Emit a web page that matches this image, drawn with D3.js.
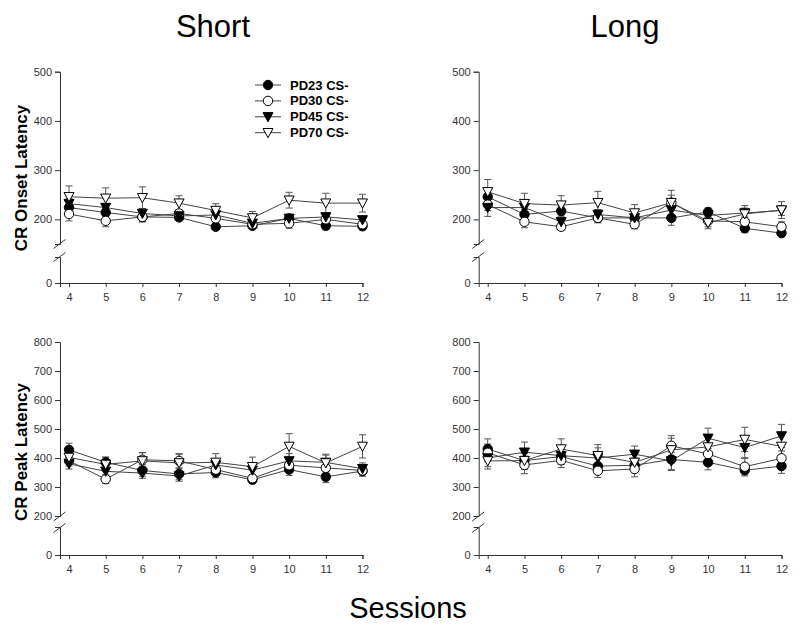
<!DOCTYPE html>
<html>
<head>
<meta charset="utf-8">
<script src="https://cdn.jsdelivr.net/npm/d3@7"></script>
<style>
  html, body { margin: 0; padding: 0; background: #fff; }
  svg { display: block; }
</style>
</head>
<body>
<script>
// ---------------- DATA ----------------
const sessions = [4, 5, 6, 7, 8, 9, 10, 11, 12];
const seriesNames = ["PD23 CS-", "PD30 CS-", "PD45 CS-", "PD70 CS-"];
const columnTitles = ["Short", "Long"];
const rowLabels = ["CR Onset Latency", "CR Peak Latency"];
const xTitle = "Sessions";
const onsetTicks = [0, 200, 300, 400, 500];
const peakTicks = [0, 200, 300, 400, 500, 600, 700, 800];

// rows: PD23, PD30, PD45, PD70
const onsetShortMean = [
  [224, 214, 205, 204, 185, 187, 202, 187, 186],
  [211, 197, 205, 212, 202, 190, 192, 200, 190],
  [232, 224, 212, 207, 209, 192, 202, 205, 199],
  [246, 243, 244, 233, 218, 203, 239, 233, 233]
];
const onsetShortSE = [
  [10, 8, 10, 6, 5, 5, 8, 8, 7],
  [14, 12, 10, 8, 9, 7, 10, 8, 8],
  [10, 8, 10, 7, 8, 6, 8, 8, 7],
  [22, 21, 22, 15, 14, 13, 16, 20, 18]
];
const onsetLongMean = [
  [246, 210, 217, 203, 203, 203, 215, 182, 172],
  [230, 195, 185, 203, 190, 234, 197, 195, 185],
  [224, 224, 195, 210, 203, 219, 208, 213, 218],
  [256, 232, 229, 234, 213, 234, 193, 211, 219]
];
const onsetLongSE = [
  [14, 10, 10, 10, 8, 15, 8, 9, 6],
  [12, 12, 7, 8, 9, 15, 12, 10, 10],
  [18, 12, 10, 10, 8, 12, 10, 10, 10],
  [25, 21, 19, 23, 17, 25, 12, 17, 17]
];
const peakShortMean = [
  [428, 385, 357, 345, 350, 325, 360, 335, 355],
  [390, 327, 394, 390, 360, 330, 375, 366, 357],
  [380, 354, 348, 338, 376, 358, 390, 385, 363],
  [402, 378, 390, 383, 385, 370, 440, 383, 440]
];
const peakShortSE = [
  [23, 18, 20, 20, 18, 12, 20, 20, 18],
  [18, 15, 25, 25, 20, 12, 20, 18, 15],
  [18, 18, 18, 18, 18, 15, 25, 25, 20],
  [22, 25, 28, 30, 30, 33, 44, 30, 40]
];
const peakLongMean = [
  [431, 391, 405, 372, 375, 395, 385, 358, 372],
  [418, 376, 392, 356, 362, 442, 414, 370, 399],
  [400, 420, 408, 400, 413, 390, 468, 436, 476],
  [390, 391, 431, 408, 385, 428, 438, 464, 440]
];
const peakLongSE = [
  [35, 25, 25, 25, 25, 38, 26, 20, 25],
  [30, 30, 25, 23, 27, 35, 30, 28, 25],
  [30, 35, 30, 35, 28, 30, 35, 35, 40],
  [28, 30, 35, 38, 30, 40, 40, 42, 38]
];

// ---------------- LAYOUT ----------------
const W = 800, H = 626;
const FONT = "Arial, 'Liberation Sans', sans-serif";
const AX = "#333";

const svg = d3.select("body").append("svg").attr("width", W).attr("height", H);

const panels = [
  { mean: onsetShortMean, se: onsetShortSE, ax: 60, xEnd: 362.5, base: 283,
    upperDom: [150, 500], upperRange: [244, 71.7], lowerDom: [0, 53], lowerRange: [283, 257],
    ticks: onsetTicks.filter(d => d > 0), legend: true, breaks: [244, 257] },
  { mean: onsetLongMean, se: onsetLongSE, ax: 478.7, xEnd: 781.5, base: 283,
    upperDom: [150, 500], upperRange: [244, 71.7], lowerDom: [0, 53], lowerRange: [283, 257],
    ticks: onsetTicks.filter(d => d > 0), legend: false, breaks: [244, 257] },
  { mean: peakShortMean, se: peakShortSE, ax: 60, xEnd: 362.5, base: 555,
    upperDom: [200, 800], upperRange: [516, 342], lowerDom: [0, 97], lowerRange: [555, 527],
    ticks: peakTicks.filter(d => d > 0), legend: false, breaks: [516.5, 528] },
  { mean: peakLongMean, se: peakLongSE, ax: 478.7, xEnd: 781.5, base: 555,
    upperDom: [200, 800], upperRange: [516, 342], lowerDom: [0, 97], lowerRange: [555, 527],
    ticks: peakTicks.filter(d => d > 0), legend: false, breaks: [516.5, 528] }
];

const symbolFill = ["#000", "#fff", "#000", "#fff"];
const symbolKind = ["circle", "circle", "tri", "tri"];

function drawMarker(g, kind, fill, x, y) {
  if (kind === "circle") {
    g.append("circle").attr("cx", x).attr("cy", y).attr("r", 4.7)
      .attr("fill", fill).attr("stroke", "#000").attr("stroke-width", 1);
  } else {
    const s = 5;
    g.append("path")
      .attr("d", `M${x - s},${y - 4.2}L${x + s},${y - 4.2}L${x},${y + 5}Z`)
      .attr("fill", fill).attr("stroke", "#000").attr("stroke-width", 1);
  }
}

function styleAxis(g) {
  g.selectAll("path.domain").attr("stroke", AX).attr("stroke-width", 1);
  g.selectAll(".tick line").attr("stroke", AX);
  g.selectAll(".tick text").attr("fill", "#333").attr("font-size", 11).attr("font-family", FONT);
}

panels.forEach(p => {
  const g = svg.append("g");
  const x = d3.scaleLinear().domain([3.754, 12]).range([p.ax, p.xEnd]);
  const yU = d3.scaleLinear().domain(p.upperDom).range(p.upperRange);
  const yL = d3.scaleLinear().domain(p.lowerDom).range(p.lowerRange);

  const gx = g.append("g").attr("transform", `translate(0,${p.base})`)
    .call(d3.axisBottom(x).tickValues(sessions).tickSizeOuter(0).tickSize(4).tickPadding(6).tickFormat(d3.format("d")));
  styleAxis(gx);

  const gyU = g.append("g").attr("transform", `translate(${p.ax},0)`)
    .call(d3.axisLeft(yU).tickValues(p.ticks).tickSizeOuter(0).tickSize(5).tickPadding(3));
  styleAxis(gyU);
  const gyL = g.append("g").attr("transform", `translate(${p.ax},0)`)
    .call(d3.axisLeft(yL).tickValues([0]).tickSizeOuter(0).tickSize(5).tickPadding(3));
  styleAxis(gyL);
  gyL.selectAll(".tick line").remove();

  p.breaks.forEach(yb => {
    g.append("line").attr("x1", p.ax - 6.5).attr("y1", yb + 4.5)
      .attr("x2", p.ax + 5.5).attr("y2", yb - 4.5)
      .attr("stroke", AX).attr("stroke-width", 1);
  });

  const line = d3.line().x((d, i) => x(sessions[i])).y(d => yU(d));

  p.mean.forEach((vals, s) => {
    const gs = g.append("g");
    vals.forEach((v, i) => {
      const cx = x(sessions[i]);
      const e = p.se[s][i];
      const y1 = yU(v + e), y2 = yU(v - e);
      gs.append("line").attr("x1", cx).attr("x2", cx).attr("y1", y1).attr("y2", y2)
        .attr("stroke", "#555").attr("stroke-width", 1);
      [y1, y2].forEach(yy => gs.append("line").attr("x1", cx - 3.5).attr("x2", cx + 3.5)
        .attr("y1", yy).attr("y2", yy).attr("stroke", "#555").attr("stroke-width", 1));
    });
    gs.append("path").datum(vals).attr("d", line).attr("fill", "none")
      .attr("stroke", "#444").attr("stroke-width", 1);
  });
  p.mean.forEach((vals, s) => {
    vals.forEach((v, i) => drawMarker(g, symbolKind[s], symbolFill[s], x(sessions[i]), yU(v)));
  });

  if (p.legend) {
    const lg = g.append("g");
    seriesNames.forEach((name, s) => {
      const yy = 85 + s * 15.9;
      lg.append("line").attr("x1", 255).attr("x2", 281).attr("y1", yy).attr("y2", yy)
        .attr("stroke", "#444").attr("stroke-width", 1);
      drawMarker(lg, symbolKind[s], symbolFill[s], 268, yy);
      lg.append("text").attr("x", 290).attr("y", yy + 4.5).text(name)
        .attr("font-family", FONT).attr("font-weight", "bold").attr("font-size", 13).attr("fill", "#000");
    });
  }
});

svg.append("text").attr("x", 213).attr("y", 37).attr("text-anchor", "middle")
  .attr("font-family", FONT).attr("font-size", 31).text(columnTitles[0]);
svg.append("text").attr("x", 625).attr("y", 37).attr("text-anchor", "middle")
  .attr("font-family", FONT).attr("font-size", 31).text(columnTitles[1]);
svg.append("text").attr("x", 408).attr("y", 618).attr("text-anchor", "middle")
  .attr("font-family", FONT).attr("font-size", 29).text(xTitle);

svg.append("text").attr("transform", "translate(27,178) rotate(-90)").attr("text-anchor", "middle")
  .attr("font-family", FONT).attr("font-weight", "bold").attr("font-size", 17).text(rowLabels[0]);
svg.append("text").attr("transform", "translate(27,452) rotate(-90)").attr("text-anchor", "middle")
  .attr("font-family", FONT).attr("font-weight", "bold").attr("font-size", 17).text(rowLabels[1]);
</script>
</body>
</html>
